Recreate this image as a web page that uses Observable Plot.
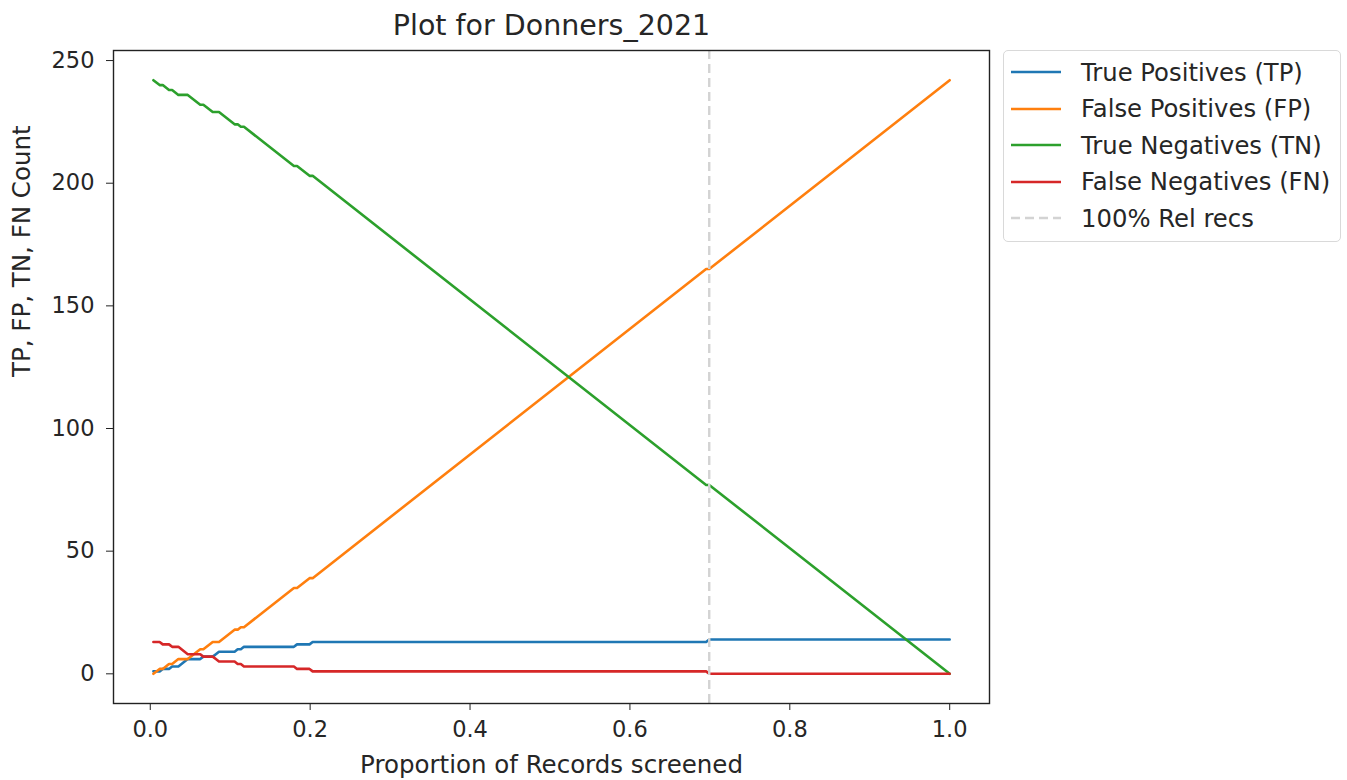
<!DOCTYPE html>
<html>
<head>
<meta charset="utf-8">
<script src="https://cdn.jsdelivr.net/npm/d3@7"></script>
<script src="https://cdn.jsdelivr.net/npm/@observablehq/plot@0.6"></script>
<style>
  body { margin: 0; background: #fff; font-family: "DejaVu Sans", sans-serif; }
  #wrap { position: relative; width: 1347px; height: 780px; }
  #legend { position: absolute; left: 1003px; top: 50px; width: 338px; height: 192px;
            border: 1.5px solid #d9d9d9; border-radius: 5px; box-sizing: border-box; background: #fff; }
  .item { position: absolute; left: 0; height: 30px; display: flex; align-items: center; }
  .item svg { margin-left: 6px; margin-right: 19px; }
  .item span { font-size: 24.3px; color: #262626; white-space: nowrap; }
</style>
</head>
<body>
<div id="wrap"><div id="legend"></div></div>
<script>
// ---- data ----
const chartTitle = "Plot for Donners_2021";
const xLabel = "Proportion of Records screened";
const yLabel = "TP, FP, TN, FN Count";
const totalRecords = 256;
// number of records screened at each vertex of the step curves
const screened = [1, 3, 4, 6, 7, 9, 10, 11, 12, 16, 17, 20, 21, 22, 27, 28, 29, 30, 46, 47, 51, 52, 178, 179, 256];
const tpCounts = [1, 1, 2, 2, 3, 3, 4, 5, 6, 6, 7, 7, 8, 9, 9, 10, 10, 11, 11, 12, 12, 13, 13, 14, 14];
const fpCounts = [0, 2, 2, 4, 4, 6, 6, 6, 6, 10, 10, 13, 13, 13, 18, 18, 19, 19, 35, 35, 39, 39, 165, 165, 242];
const tnCounts = [242, 240, 240, 238, 238, 236, 236, 236, 236, 232, 232, 229, 229, 229, 224, 224, 223, 223, 207, 207, 203, 203, 77, 77, 0];
const fnCounts = [13, 13, 12, 12, 11, 11, 10, 9, 8, 8, 7, 7, 6, 5, 5, 4, 4, 3, 3, 2, 2, 1, 1, 0, 0];
const relRecsScreened = 179; // 100% relevant records found
const seriesNames = ["True Positives (TP)", "False Positives (FP)", "True Negatives (TN)", "False Negatives (FN)"];
const seriesColors = ["#1f77b4", "#ff7f0e", "#2ca02c", "#d62728"];
const refLineName = "100% Rel recs";
const refLineColor = "#d3d3d3";
const xTicks = [0, 0.2, 0.4, 0.6, 0.8, 1.0];
const yTicks = [0, 50, 100, 150, 200, 250];

// ---- build table ----
const seriesValues = [tpCounts, fpCounts, tnCounts, fnCounts];
const rows = [];
seriesNames.forEach((name, s) => {
  screened.forEach((k, i) => rows.push({ proportion: k / totalRecords, count: seriesValues[s][i], series: name }));
});
const relRecsProportion = relRecsScreened / totalRecords;

const ink = "#262626";
const chart = Plot.plot({
  width: 1347,
  height: 780,
  marginLeft: 113,
  marginRight: 358,
  marginTop: 50,
  marginBottom: 77,
  style: { fontFamily: "DejaVu Sans, sans-serif", fontSize: "22.5px", color: ink, background: "#fff", overflow: "visible" },
  x: { domain: [-0.046, 1.0498] },
  y: { domain: [-12.1, 254.1] },
  color: { domain: seriesNames, range: seriesColors },
  marks: [
    Plot.line(rows, { x: "proportion", y: "count", z: "series", stroke: "series", strokeWidth: 2.6 }),
    Plot.ruleX([relRecsProportion], { stroke: refLineColor, strokeWidth: 2.4, strokeDasharray: "9,5" }),
    Plot.frame({ stroke: "#222", strokeWidth: 1.4 }),
    Plot.axisX(xTicks, { tickSize: 7, tickPadding: 11, tickFormat: d => d.toFixed(1), label: null, fontSize: 22.5, stroke: "#222" }),
    Plot.axisY(yTicks, { tickSize: 7, tickPadding: 12, label: null, fontSize: 22.5, stroke: "#222" }),
    Plot.text([chartTitle], { frameAnchor: "top", dy: -25, fontSize: 28.5, fill: ink, lineAnchor: "middle" }),
    Plot.text([xLabel], { frameAnchor: "bottom", dy: 62, fontSize: 24.5, fill: ink, lineAnchor: "middle" }),
    Plot.text([yLabel], { frameAnchor: "left", dx: -91, rotate: -90, fontSize: 24.5, fill: ink, lineAnchor: "middle" })
  ]
});
document.getElementById("wrap").prepend(chart);

// ---- legend ----
const legend = document.getElementById("legend");
const legendItems = seriesNames.map((n, i) => ({ name: n, color: seriesColors[i], dash: null }))
  .concat([{ name: refLineName, color: refLineColor, dash: "9,5" }]);
legendItems.forEach((it, i) => {
  const div = document.createElement("div");
  div.className = "item";
  div.style.top = (6 + i * 36.5) + "px";
  div.innerHTML = `<svg width="52" height="10"><line x1="1" x2="51" y1="5" y2="5" stroke="${it.color}" stroke-width="2.6" ${it.dash ? `stroke-dasharray="${it.dash}"` : ""}/></svg><span>${it.name}</span>`;
  legend.appendChild(div);
});
</script>
</body>
</html>
